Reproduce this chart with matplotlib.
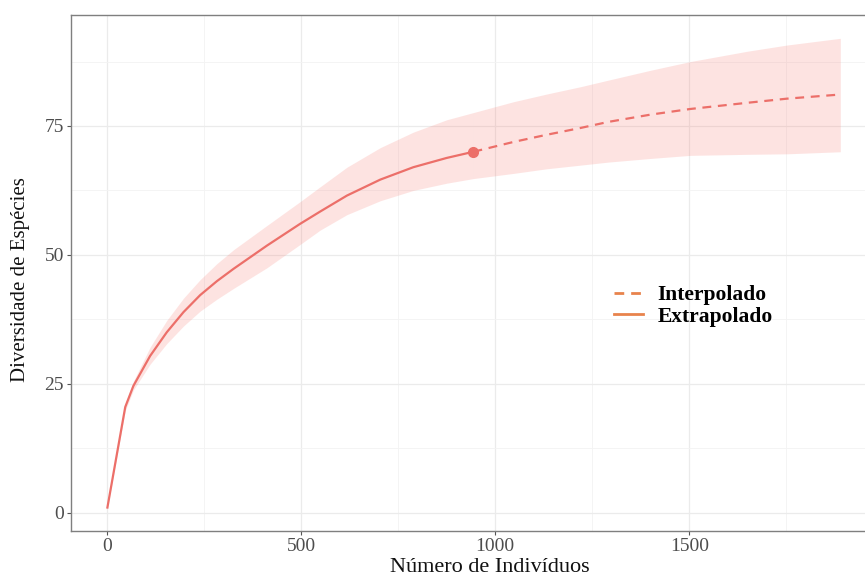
import matplotlib.pyplot as plt
from matplotlib.lines import Line2D

plt.rcParams["font.family"] = ["Liberation Serif", "DejaVu Serif"]

# observado (linha cheia)
x_obs = [1, 47, 68, 111, 154, 197, 240, 283, 326, 412, 497, 549, 618, 704, 789, 875, 944]
y_obs = [1, 20.5, 24.6, 30.4, 35.0, 38.9, 42.2, 44.9, 47.3, 51.8, 56.0, 58.4, 61.5, 64.6, 67.0, 68.8, 70.0]
lo_obs = [1, 19.8, 23.8, 28.8, 32.8, 36.2, 39.1, 41.4, 43.5, 47.5, 52.0, 54.8, 57.8, 60.5, 62.5, 63.9, 64.8]
hi_obs = [1, 21.2, 25.5, 32.1, 37.3, 41.6, 45.2, 48.3, 51.0, 55.7, 60.3, 63.2, 67.0, 70.8, 73.8, 76.2, 77.6]

# extrapolado (tracejado)
x_ext = [944, 1047, 1133, 1219, 1292, 1400, 1503, 1650, 1752, 1889]
y_ext = [70.0, 71.9, 73.3, 74.6, 75.8, 77.2, 78.3, 79.5, 80.3, 81.1]
lo_ext = [64.8, 65.8, 66.7, 67.4, 68.0, 68.7, 69.3, 69.5, 69.6, 70.0]
hi_ext = [77.6, 79.7, 81.2, 82.6, 83.9, 85.8, 87.5, 89.5, 90.7, 92.0]

x_ticks = [0, 500, 1000, 1500]
y_ticks = [0, 25, 50, 75]

LINE = "#EC6F69"
LEG = "#E8834C"

fig = plt.figure(figsize=(8.65, 5.78), dpi=100)
ax = fig.add_axes([0.0818, 0.0813, 0.932, 0.893])

ax.fill_between(x_obs, lo_obs, hi_obs, color="#F8766D", alpha=0.2, lw=0)
ax.fill_between(x_ext, lo_ext, hi_ext, color="#F8766D", alpha=0.2, lw=0)
ax.plot(x_obs, y_obs, color=LINE, lw=1.6, solid_joinstyle="round")
ax.plot(x_ext, y_ext, color=LINE, lw=1.6, ls=(0, (4, 3)))
ax.plot([x_obs[-1]], [y_obs[-1]], "o", color=LINE, ms=7)

ax.set_xlim(-93.4, 1983.4)
ax.set_ylim(-3.55, 96.55)
ax.set_xticks(x_ticks)
ax.set_yticks(y_ticks)
ax.set_xticks([250, 750, 1250, 1750], minor=True)
ax.set_yticks([12.5, 37.5, 62.5, 87.5], minor=True)
ax.grid(True, which="major", color="#EBEBEB", lw=0.9)
ax.grid(True, which="minor", color="#F3F3F3", lw=0.6)
ax.set_axisbelow(True)
ax.tick_params(which="minor", length=0)
ax.tick_params(which="major", length=3, color="#555555", labelsize=14,
               labelcolor="#4D4D4D", pad=2)
for s in ax.spines.values():
    s.set_color("#7F7F7F")
    s.set_linewidth(1.0)

fig.text(0.566, 0.002, "Número de Indivíduos", fontsize=16, ha="center",
         va="bottom", color="#111111")
fig.text(0.024, 0.517, "Diversidade de Espécies", fontsize=15, rotation=90,
         ha="center", va="center", color="#111111")

handles = [
    Line2D([], [], color=LEG, lw=2, ls=(0, (3.5, 2.5))),
    Line2D([], [], color=LEG, lw=2),
]
ax.legend(handles, ["Interpolado", "Extrapolado"], loc="center left",
          bbox_to_anchor=(0.661, 0.436), frameon=False, borderpad=0,
          handlelength=1.35, handletextpad=0.65, labelspacing=0.05,
          prop={"family": "Liberation Serif", "weight": "bold", "size": 15.5})

fig.savefig("out.png", dpi=100)
